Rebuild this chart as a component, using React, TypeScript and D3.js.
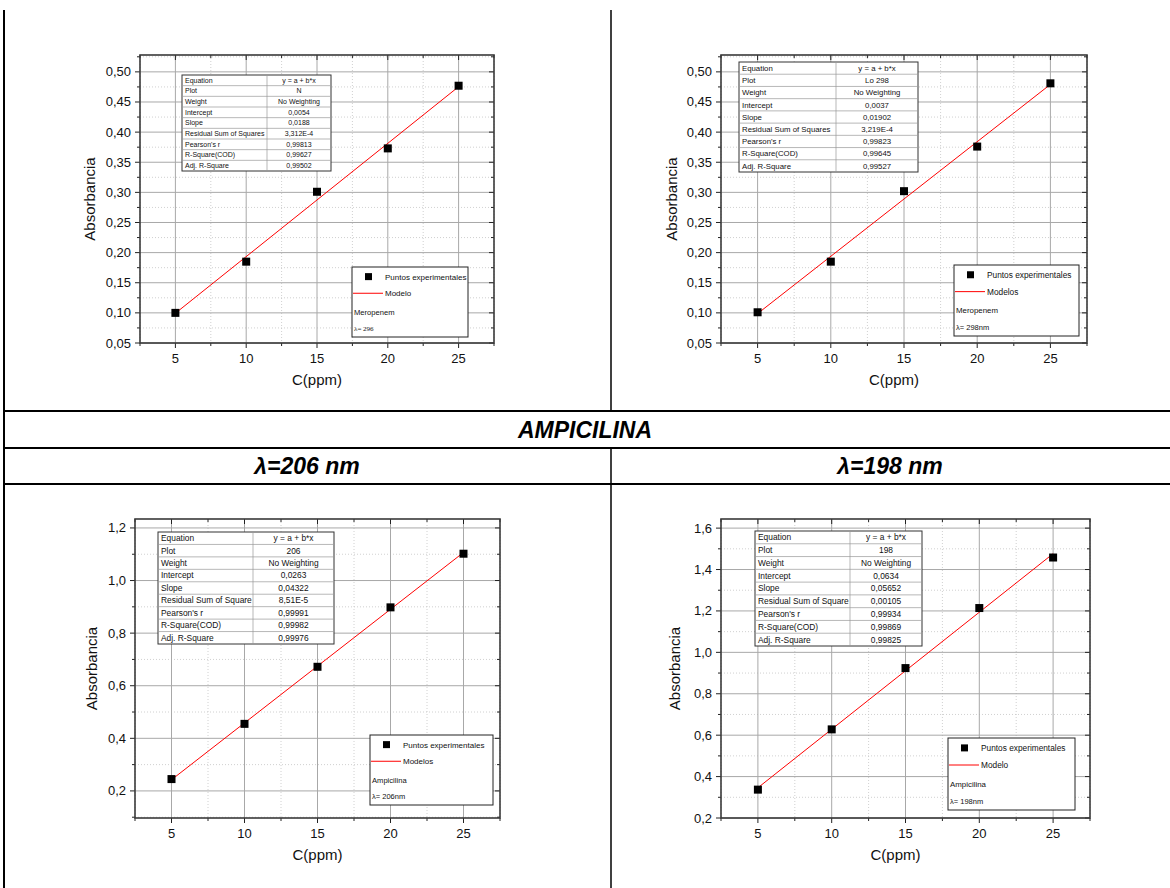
import React from "react";
import * as d3 from "d3";

// Concentrations (ppm) shared by every calibration curve
const conc = [5, 10, 15, 20, 25];

// Measured absorbances
const absMero296 = [0.1, 0.185, 0.301, 0.373, 0.477];
const absMero298 = [0.101, 0.185, 0.302, 0.376, 0.481];
const absAmp206 = [0.245, 0.455, 0.672, 0.898, 1.102];
const absAmp198 = [0.337, 0.628, 0.924, 1.214, 1.458];

// Linear fit parameters (intercept a, slope b)
const fitMero296 = [0.0054, 0.0188];
const fitMero298 = [0.0037, 0.01902];
const fitAmp206 = [0.0263, 0.04322];
const fitAmp198 = [0.0634, 0.05652];

// Axis ticks
const xTicks = [5, 10, 15, 20, 25];
const yTicksMero = [0.05, 0.1, 0.15, 0.2, 0.25, 0.3, 0.35, 0.4, 0.45, 0.5];
const yTicksAmp206 = [0.2, 0.4, 0.6, 0.8, 1.0, 1.2];
const yTicksAmp198 = [0.2, 0.4, 0.6, 0.8, 1.0, 1.2, 1.4, 1.6];

// Fit report tables
const statLabelsA = [
  "Equation", "Plot", "Weight", "Intercept", "Slope",
  "Residual Sum of Squares", "Pearson's r", "R-Square(COD)", "Adj. R-Square",
];
const statLabelsB = [
  "Equation", "Plot", "Weight", "Intercept", "Slope",
  "Residual Sum of Square", "Pearson's r", "R-Square(COD)", "Adj. R-Square",
];
const statsMero296 = ["y = a + b*x", "N", "No Weighting", "0,0054", "0,0188", "3,312E-4", "0,99813", "0,99627", "0,99502"];
const statsMero298 = ["y = a + b*x", "Lo 298", "No Weighting", "0,0037", "0,01902", "3,219E-4", "0,99823", "0,99645", "0,99527"];
const statsAmp206 = ["y = a + b*x", "206", "No Weighting", "0,0263", "0,04322", "8,51E-5", "0,99991", "0,99982", "0,99976"];
const statsAmp198 = ["y = a + b*x", "198", "No Weighting", "0,0634", "0,05652", "0,00105", "0,99934", "0,99869", "0,99825"];

const locale = d3.formatLocale({ decimal: ",", thousands: ".", grouping: [3], currency: ["", ""] });

const FONT = "'Liberation Sans', Arial, sans-serif";

type Box = { x0: number; x1: number; y0: number; y1: number };

interface PanelCfg {
  frame: Box;
  yDomain: [number, number];
  yTicks: number[];
  yMinor: number;
  yFmt: string;
  values: number[];
  fit: number[];
  table: Box & { col: number; font: number };
  labels: string[];
  stats: string[];
  legend: Box & { font: number };
  lineName: string;
  compound: string;
  lambda: string;
  lambdaSerif?: boolean;
  yTitleX: number;
  xTitleShift: number;
}

const panels: PanelCfg[] = [
  {
    frame: { x0: 140, x1: 494, y0: 55, y1: 343 },
    yDomain: [0.05, 0.528], yTicks: yTicksMero, yMinor: 0.025, yFmt: ".2f",
    values: absMero296, fit: fitMero296,
    table: { x0: 182, x1: 331, y0: 75, y1: 171, col: 267, font: 7 },
    labels: statLabelsA, stats: statsMero296,
    legend: { x0: 352, x1: 468, y0: 267, y1: 337, font: 8 },
    lineName: "Modelo", compound: "Meropenem", lambda: "λ= 296", lambdaSerif: true,
    yTitleX: 95, xTitleShift: 0,
  },
  {
    frame: { x0: 721, x1: 1087, y0: 55, y1: 343 },
    yDomain: [0.05, 0.528], yTicks: yTicksMero, yMinor: 0.025, yFmt: ".2f",
    values: absMero298, fit: fitMero298,
    table: { x0: 739, x1: 918, y0: 62, y1: 172, col: 836, font: 7.8 },
    labels: statLabelsA, stats: statsMero298,
    legend: { x0: 954, x1: 1079, y0: 265, y1: 336, font: 8.3 },
    lineName: "Modelos", compound: "Meropenem", lambda: "λ= 298nm",
    yTitleX: 677, xTitleShift: -10,
  },
  {
    frame: { x0: 135, x1: 500, y0: 519, y1: 818 },
    yDomain: [0.097, 1.234], yTicks: yTicksAmp206, yMinor: 0.1, yFmt: ".1f",
    values: absAmp206, fit: fitAmp206,
    table: { x0: 158, x1: 334, y0: 532, y1: 644, col: 253, font: 8.4 },
    labels: statLabelsB, stats: statsAmp206,
    legend: { x0: 370, x1: 493, y0: 735, y1: 805, font: 8 },
    lineName: "Modelos", compound: "Ampicilina", lambda: "λ= 206nm",
    yTitleX: 97, xTitleShift: 0,
  },
  {
    frame: { x0: 721, x1: 1090, y0: 519, y1: 818 },
    yDomain: [0.2, 1.644], yTicks: yTicksAmp198, yMinor: 0.1, yFmt: ".1f",
    values: absAmp198, fit: fitAmp198,
    table: { x0: 755, x1: 922, y0: 531, y1: 646, col: 850, font: 8.4 },
    labels: statLabelsB, stats: statsAmp198,
    legend: { x0: 948, x1: 1075, y0: 738, y1: 810, font: 8.3 },
    lineName: "Modelo", compound: "Ampicilina", lambda: "λ= 198nm",
    yTitleX: 680, xTitleShift: -10,
  },
];

function Panel({ cfg }: { cfg: PanelCfg }) {
  const { frame, table, legend } = cfg;
  const x = d3.scaleLinear().domain([2.5, 27.5]).range([frame.x0, frame.x1]);
  const y = d3.scaleLinear().domain(cfg.yDomain).range([frame.y1, frame.y0]);
  const fmt = locale.format(cfg.yFmt);

  const xMinor = d3.range(2.5, 27.6, 5);
  const yMinor: number[] = [];
  for (let v = cfg.yTicks[0] - cfg.yMinor; v <= cfg.yDomain[1] + 1e-9; v += cfg.yMinor * 2) {
    if (v >= cfg.yDomain[0] - 1e-9) yMinor.push(v);
  }

  const line = d3.line<number>().x((d) => x(d)).y((d) => y(cfg.fit[0] + cfg.fit[1] * d));
  const rowH = (table.y1 - table.y0) / cfg.labels.length;
  const cx = (frame.x0 + frame.x1) / 2 + cfg.xTitleShift;
  const cy = (frame.y0 + frame.y1) / 2;
  const lr = (legend.y1 - legend.y0) / 4;

  return (
    <g fontFamily={FONT}>
      {/* minor grid */}
      {xMinor.map((v) => (
        <line key={"xm" + v} x1={x(v)} x2={x(v)} y1={frame.y0} y2={frame.y1} stroke="#c4c4c4" strokeWidth={0.8} strokeDasharray="1,2" />
      ))}
      {yMinor.map((v) => (
        <line key={"ym" + v} x1={frame.x0} x2={frame.x1} y1={y(v)} y2={y(v)} stroke="#c4c4c4" strokeWidth={0.8} strokeDasharray="1,2" />
      ))}
      {/* major grid */}
      {xTicks.map((v) => (
        <line key={"xg" + v} x1={x(v)} x2={x(v)} y1={frame.y0} y2={frame.y1} stroke="#a8a8a8" strokeWidth={1} />
      ))}
      {cfg.yTicks.map((v) => (
        <line key={"yg" + v} x1={frame.x0} x2={frame.x1} y1={y(v)} y2={y(v)} stroke="#a8a8a8" strokeWidth={1} />
      ))}

      {/* ticks: outward on bottom/left, inward on top/right */}
      {xTicks.map((v) => (
        <g key={"xt" + v}>
          <line x1={x(v)} x2={x(v)} y1={frame.y1} y2={frame.y1 + 5} stroke="#222" />
          <line x1={x(v)} x2={x(v)} y1={frame.y0} y2={frame.y0 + 5} stroke="#222" />
          <text x={x(v)} y={frame.y1 + 20} fontSize={13} textAnchor="middle" fill="#111">{v}</text>
        </g>
      ))}
      {xMinor.map((v) => (
        <g key={"xmt" + v}>
          <line x1={x(v)} x2={x(v)} y1={frame.y1} y2={frame.y1 + 3} stroke="#222" />
          <line x1={x(v)} x2={x(v)} y1={frame.y0} y2={frame.y0 + 3} stroke="#222" />
        </g>
      ))}
      {cfg.yTicks.map((v) => (
        <g key={"yt" + v}>
          <line x1={frame.x0 - 5} x2={frame.x0} y1={y(v)} y2={y(v)} stroke="#222" />
          <line x1={frame.x1 - 5} x2={frame.x1} y1={y(v)} y2={y(v)} stroke="#222" />
          <text x={frame.x0 - 9} y={y(v) + 4.5} fontSize={13} textAnchor="end" fill="#111">{fmt(v)}</text>
        </g>
      ))}
      {yMinor.map((v) => (
        <g key={"ymt" + v}>
          <line x1={frame.x0 - 3} x2={frame.x0} y1={y(v)} y2={y(v)} stroke="#222" />
          <line x1={frame.x1 - 3} x2={frame.x1} y1={y(v)} y2={y(v)} stroke="#222" />
        </g>
      ))}

      {/* frame */}
      <rect x={frame.x0} y={frame.y0} width={frame.x1 - frame.x0} height={frame.y1 - frame.y0} fill="none" stroke="#3a3a3a" strokeWidth={1.6} />

      {/* axis titles */}
      <text x={cx} y={frame.y1 + 42} fontSize={15} textAnchor="middle" fill="#111">C(ppm)</text>
      <text transform={`translate(${cfg.yTitleX},${cy}) rotate(-90)`} fontSize={15} textAnchor="middle" fill="#111">Absorbancia</text>

      {/* fit report */}
      <rect x={table.x0} y={table.y0} width={table.x1 - table.x0} height={table.y1 - table.y0} fill="#fff" stroke="#333" strokeWidth={1} />
      {cfg.labels.map((lab, i) => (
        <g key={"row" + i}>
          {i > 0 && <line x1={table.x0} x2={table.x1} y1={table.y0 + i * rowH} y2={table.y0 + i * rowH} stroke="#9a9a9a" strokeWidth={0.7} />}
          <text x={table.x0 + 3} y={table.y0 + (i + 0.5) * rowH + table.font * 0.35} fontSize={table.font} fill="#111">{lab}</text>
          <text x={(table.col + table.x1) / 2} y={table.y0 + (i + 0.5) * rowH + table.font * 0.35} fontSize={table.font} textAnchor="middle" fill="#111">{cfg.stats[i]}</text>
        </g>
      ))}
      <line x1={table.col} x2={table.col} y1={table.y0} y2={table.y1} stroke="#9a9a9a" strokeWidth={0.7} />

      {/* fitted line and measured points */}
      <path d={line([conc[0], conc[conc.length - 1]]) || ""} fill="none" stroke="#ff0000" strokeWidth={1} />
      {conc.map((c, i) => (
        <rect key={"p" + i} x={x(c) - 4} y={y(cfg.values[i]) - 4} width={8} height={8} fill="#000" />
      ))}

      {/* legend */}
      <rect x={legend.x0} y={legend.y0} width={legend.x1 - legend.x0} height={legend.y1 - legend.y0} fill="#fff" stroke="#222" strokeWidth={1} />
      <rect x={legend.x0 + 13} y={legend.y0 + lr * 0.55 - 3.5} width={7} height={7} fill="#000" />
      <text x={legend.x0 + 33} y={legend.y0 + lr * 0.55 + 3} fontSize={legend.font} fill="#111">Puntos experimentales</text>
      <line x1={legend.x0 + 1} x2={legend.x0 + 31} y1={legend.y0 + lr * 1.5} y2={legend.y0 + lr * 1.5} stroke="#ff0000" strokeWidth={1} />
      <text x={legend.x0 + 33} y={legend.y0 + lr * 1.5 + 3} fontSize={legend.font} fill="#111">{cfg.lineName}</text>
      <text x={legend.x0 + 2} y={legend.y0 + lr * 2.55 + 3} fontSize={legend.font * 0.95} fill="#111">{cfg.compound}</text>
      <text x={legend.x0 + 2} y={legend.y0 + lr * 3.5 + 2.5} fontSize={cfg.lambdaSerif ? 7 : 7.5}
        fontFamily={cfg.lambdaSerif ? "'Liberation Serif', 'Times New Roman', serif" : FONT} fill="#111">{cfg.lambda}</text>
    </g>
  );
}

export default function App() {
  const W = 1170;
  const H = 888;
  return (
    <svg width={W} height={H} style={{ position: "absolute", left: 0, top: 0, background: "#fff" }}>
      <rect width={W} height={H} fill="#fff" />
      {/* document table borders */}
      <line x1={4} x2={4} y1={10} y2={H} stroke="#000" strokeWidth={2} />
      <line x1={611} x2={611} y1={10} y2={411} stroke="#000" strokeWidth={1.5} />
      <line x1={611} x2={611} y1={448} y2={H} stroke="#000" strokeWidth={1.5} />
      <line x1={3} x2={W} y1={411} y2={411} stroke="#000" strokeWidth={2} />
      <line x1={3} x2={W} y1={448} y2={448} stroke="#000" strokeWidth={2} />
      <line x1={3} x2={W} y1={484} y2={484} stroke="#000" strokeWidth={2} />
      <text x={585} y={438} fontSize={23} fontWeight="bold" fontStyle="italic" textAnchor="middle" fontFamily={FONT}>AMPICILINA</text>
      <text x={307} y={474} fontSize={23} fontWeight="bold" fontStyle="italic" textAnchor="middle" fontFamily={FONT}>λ=206 nm</text>
      <text x={890} y={474} fontSize={23} fontWeight="bold" fontStyle="italic" textAnchor="middle" fontFamily={FONT}>λ=198 nm</text>
      {panels.map((p, i) => (
        <Panel key={i} cfg={p} />
      ))}
    </svg>
  );
}
